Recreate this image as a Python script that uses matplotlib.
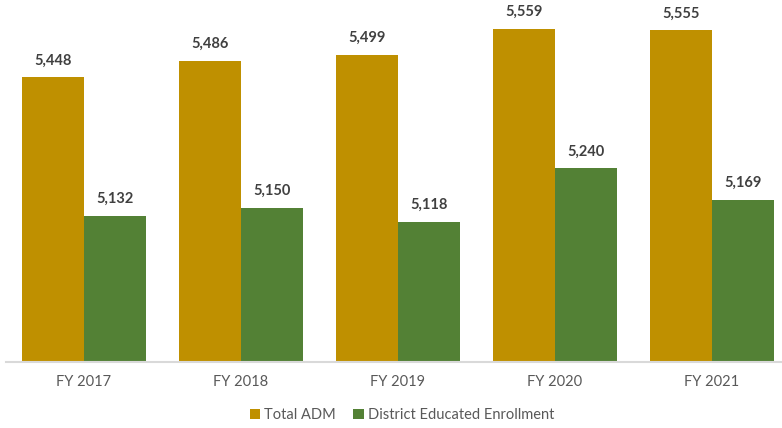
import numpy as np
import matplotlib.pyplot as plt

years = ['FY 2017', 'FY 2018', 'FY 2019', 'FY 2020', 'FY 2021']
total_adm = [5448, 5486, 5499, 5559, 5555]
district_enrollment = [5132, 5150, 5118, 5240, 5169]

GOLD = '#BF9000'
GREEN = '#538135'

plt.rcParams['font.family'] = ['Lato', 'DejaVu Sans']

W, H = 782, 428
fig = plt.figure(figsize=(W / 100, H / 100), dpi=100)
# axes spans the plot area in pixel terms (bottom baseline at y=361.5)
left, top, bottom = 5.5, 0, 361.5
ax = fig.add_axes([left / W, 1 - bottom / H, (W - left) / W, (bottom - top) / H])

x = np.arange(len(years))
bw = 62 / 157
b1 = ax.bar(x - bw / 2, total_adm, bw, color=GOLD, label='Total ADM')
b2 = ax.bar(x + bw / 2, district_enrollment, bw, color=GREEN,
            label='District Educated Enrollment')

ax.set_ylim(4800, 5624)
ax.set_xlim(-0.5, -0.5 + (W - left) / 157)

for bars, vals in ((b1, total_adm), (b2, district_enrollment)):
    for rect, v in zip(bars, vals):
        ax.annotate(f'{v:,}', (rect.get_x() + rect.get_width() / 2, v),
                    xytext=(0, 7), textcoords='offset points',
                    ha='center', va='bottom', fontsize=10.5,
                    fontweight='bold', color='#404040')

for s in ('top', 'right', 'left'):
    ax.spines[s].set_visible(False)
ax.spines['bottom'].set_color('#D9D9D9')
ax.spines['bottom'].set_linewidth(1.5)
ax.set_yticks([])
ax.set_xticks(x)
ax.set_xticklabels(years, fontsize=10.5, color='#595959')
ax.tick_params(axis='x', length=0, pad=10)

fig.legend(loc='center', bbox_to_anchor=(402 / W, 1 - 415 / H), ncol=2,
           frameon=False, fontsize=10.5, labelcolor='#595959',
           handlelength=0.7, handleheight=0.7, handletextpad=0.3,
           columnspacing=1.2)

fig.savefig('out.png', dpi=100)
